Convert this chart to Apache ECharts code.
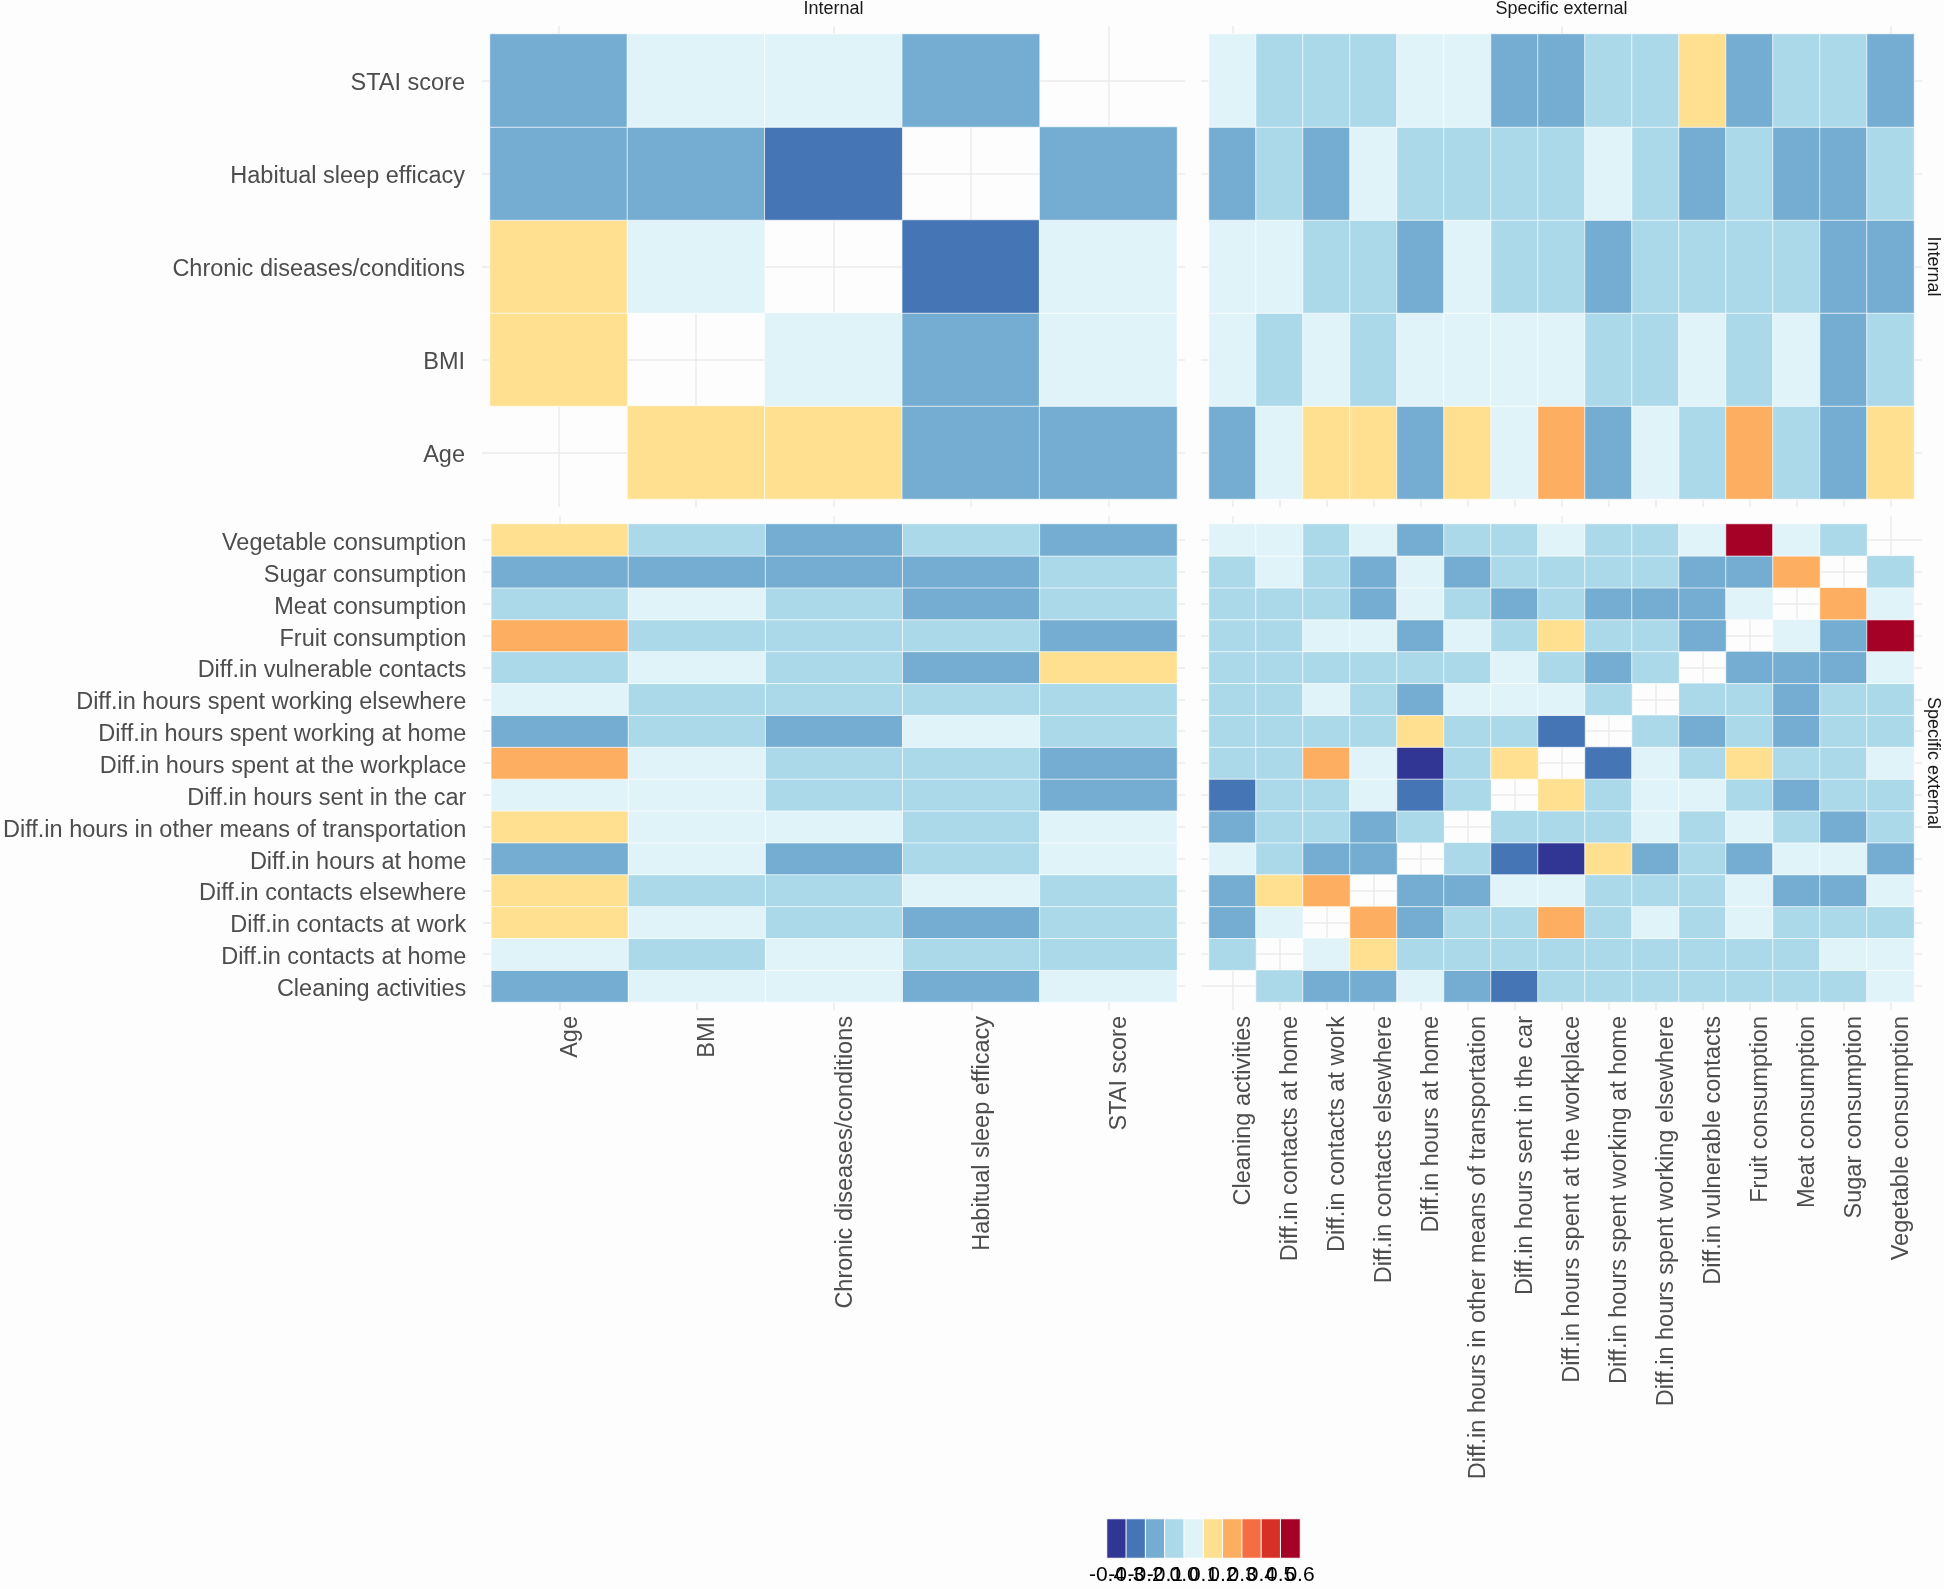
<!DOCTYPE html>
<html><head><meta charset="utf-8">
<script src="https://cdn.jsdelivr.net/npm/echarts@6/dist/echarts.min.js"></script>
<style>html,body{margin:0;padding:0;background:#fdfdfd}#c{width:1944px;height:1589px}</style>
</head><body><div id="c"></div>
<script>
// ---------- DATA ----------
const internalVars = ['Age', 'BMI', 'Chronic diseases/conditions', 'Habitual sleep efficacy', 'STAI score'];
const externalVars = ['Cleaning activities', 'Diff.in contacts at home', 'Diff.in contacts at work', 'Diff.in contacts elsewhere',
  'Diff.in hours at home', 'Diff.in hours in other means of transportation', 'Diff.in hours sent in the car',
  'Diff.in hours spent at the workplace', 'Diff.in hours spent working at home', 'Diff.in hours spent working elsewhere',
  'Diff.in vulnerable contacts', 'Fruit consumption', 'Meat consumption', 'Sugar consumption', 'Vegetable consumption'];
const facetLabels = ['Internal', 'Specific external'];
const legendBreaks = ['-0.4', '-0.3', '-0.2', '-0.1', '0.0', '0.1', '0.2', '0.3', '0.4', '0.5', '0.6'];
const legendValues = [-0.35, -0.25, -0.15, -0.05, 0.05, 0.15, 0.25, 0.35, 0.45, 0.55];

// rows follow internalVars (Age first), columns follow internalVars
const internalInternal = [
  [null, 0.15, 0.15, -0.15, -0.15],
  [0.15, null, 0.05, -0.15, 0.05],
  [0.15, 0.05, null, -0.25, 0.05],
  [-0.15, -0.15, -0.25, null, -0.15],
  [-0.15, 0.05, 0.05, -0.15, null]
];
// rows follow internalVars, columns follow externalVars
const internalExternal = [
  [-0.15, 0.05, 0.15, 0.15, -0.15, 0.15, 0.05, 0.25, -0.15, 0.05, -0.05, 0.25, -0.05, -0.15, 0.15],
  [0.05, -0.05, 0.05, -0.05, 0.05, 0.05, 0.05, 0.05, -0.05, -0.05, 0.05, -0.05, 0.05, -0.15, -0.05],
  [0.05, 0.05, -0.05, -0.05, -0.15, 0.05, -0.05, -0.05, -0.15, -0.05, -0.05, -0.05, -0.05, -0.15, -0.15],
  [-0.15, -0.05, -0.15, 0.05, -0.05, -0.05, -0.05, -0.05, 0.05, -0.05, -0.15, -0.05, -0.15, -0.15, -0.05],
  [0.05, -0.05, -0.05, -0.05, 0.05, 0.05, -0.15, -0.15, -0.05, -0.05, 0.15, -0.15, -0.05, -0.05, -0.15]
];
// rows follow externalVars, columns follow internalVars
const externalInternal = [
  [-0.15, 0.05, 0.05, -0.15, 0.05],
  [0.05, -0.05, 0.05, -0.05, -0.05],
  [0.15, 0.05, -0.05, -0.15, -0.05],
  [0.15, -0.05, -0.05, 0.05, -0.05],
  [-0.15, 0.05, -0.15, -0.05, 0.05],
  [0.15, 0.05, 0.05, -0.05, 0.05],
  [0.05, 0.05, -0.05, -0.05, -0.15],
  [0.25, 0.05, -0.05, -0.05, -0.15],
  [-0.15, -0.05, -0.15, 0.05, -0.05],
  [0.05, -0.05, -0.05, -0.05, -0.05],
  [-0.05, 0.05, -0.05, -0.15, 0.15],
  [0.25, -0.05, -0.05, -0.05, -0.15],
  [-0.05, 0.05, -0.05, -0.15, -0.05],
  [-0.15, -0.15, -0.15, -0.15, -0.05],
  [0.15, -0.05, -0.15, -0.05, -0.15]
];
// rows follow externalVars, columns follow externalVars
const externalExternal = [
  [null, -0.05, -0.15, -0.15, 0.05, -0.15, -0.25, -0.05, -0.05, -0.05, -0.05, -0.05, -0.05, -0.05, 0.05],
  [-0.05, null, 0.05, 0.15, -0.05, -0.05, -0.05, -0.05, -0.05, -0.05, -0.05, -0.05, -0.05, 0.05, 0.05],
  [-0.15, 0.05, null, 0.25, -0.15, -0.05, -0.05, 0.25, -0.05, 0.05, -0.05, 0.05, -0.05, -0.05, -0.05],
  [-0.15, 0.15, 0.25, null, -0.15, -0.15, 0.05, 0.05, -0.05, -0.05, -0.05, 0.05, -0.15, -0.15, 0.05],
  [0.05, -0.05, -0.15, -0.15, null, -0.05, -0.25, -0.35, 0.15, -0.15, -0.05, -0.15, 0.05, 0.05, -0.15],
  [-0.15, -0.05, -0.05, -0.15, -0.05, null, -0.05, -0.05, -0.05, 0.05, -0.05, 0.05, -0.05, -0.15, -0.05],
  [-0.25, -0.05, -0.05, 0.05, -0.25, -0.05, null, 0.15, -0.05, 0.05, 0.05, -0.05, -0.15, -0.05, -0.05],
  [-0.05, -0.05, 0.25, 0.05, -0.35, -0.05, 0.15, null, -0.25, 0.05, -0.05, 0.15, -0.05, -0.05, 0.05],
  [-0.05, -0.05, -0.05, -0.05, 0.15, -0.05, -0.05, -0.25, null, -0.05, -0.15, -0.05, -0.15, -0.05, -0.05],
  [-0.05, -0.05, 0.05, -0.05, -0.15, 0.05, 0.05, 0.05, -0.05, null, -0.05, -0.05, -0.15, -0.05, -0.05],
  [-0.05, -0.05, -0.05, -0.05, -0.05, -0.05, 0.05, -0.05, -0.15, -0.05, null, -0.15, -0.15, -0.15, 0.05],
  [-0.05, -0.05, 0.05, 0.05, -0.15, 0.05, -0.05, 0.15, -0.05, -0.05, -0.15, null, 0.05, -0.15, 0.55],
  [-0.05, -0.05, -0.05, -0.15, 0.05, -0.05, -0.15, -0.05, -0.15, -0.15, -0.15, 0.05, null, 0.25, 0.05],
  [-0.05, 0.05, -0.05, -0.15, 0.05, -0.15, -0.05, -0.05, -0.05, -0.05, -0.15, -0.15, 0.25, null, -0.05],
  [0.05, 0.05, -0.05, 0.05, -0.15, -0.05, -0.05, 0.05, -0.05, -0.05, 0.05, 0.55, 0.05, -0.05, null]
];

// ---------- STYLE / LAYOUT ----------
const palette = ['#313695', '#4575b4', '#74add1', '#abd9e9', '#e0f3f8', '#fee090', '#fdae61', '#f46d43', '#d73027', '#a50026'];
const FONT = 'Liberation Sans, Arial, sans-serif';
const labelColor = '#4d4d4d';
const gridColor = '#ebebeb';
const panels = [
  { left: 490, top: 34, width: 687, height: 465, xc: internalVars, yc: internalVars, m: internalInternal, xl: false, yl: true },
  { left: 1209, top: 34, width: 705, height: 465, xc: externalVars, yc: internalVars, m: internalExternal, xl: false, yl: false },
  { left: 490, top: 524, width: 687, height: 478, xc: internalVars, yc: externalVars, m: externalInternal, xl: true, yl: true },
  { left: 1209, top: 524, width: 705, height: 478, xc: externalVars, yc: externalVars, m: externalExternal, xl: true, yl: false }
];

const grid = [], xAxis = [], yAxis = [], series = [];
const tickStyle = { show: true, alignWithLabel: true, length: 8, lineStyle: { color: gridColor, width: 1.5 } };
const txt = { fontSize: 23.5, fontFamily: FONT, color: labelColor };

panels.forEach((p, gi) => {
  grid.push({ left: p.left, top: p.top, width: p.width, height: p.height, containLabel: false });
  const xi = xAxis.length, yi = yAxis.length;
  xAxis.push({
    type: 'category', gridIndex: gi, data: p.xc, position: 'bottom',
    axisLine: { show: false }, axisTick: tickStyle,
    splitLine: { show: true, alignWithLabel: true, lineStyle: { color: gridColor, width: 1.5 } },
    axisLabel: {
      show: p.xl, rotate: 90, margin: 14, interval: 0, ...txt,
      formatter: v => '{t|' + v + '}',
      rich: { t: { ...txt, padding: [22, 0, 0, 0] } }
    }
  });
  xAxis.push({
    type: 'category', gridIndex: gi, data: p.xc, position: 'top',
    axisLine: { show: false }, axisTick: tickStyle, splitLine: { show: false }, axisLabel: { show: false }
  });
  yAxis.push({
    type: 'category', gridIndex: gi, data: p.yc, position: 'left',
    axisLine: { show: false }, axisTick: tickStyle,
    splitLine: { show: true, alignWithLabel: true, lineStyle: { color: gridColor, width: 1.5 } },
    axisLabel: {
      show: p.yl, margin: 25, interval: 0, ...txt,
      formatter: v => '{t|' + v + '}',
      rich: { t: { ...txt, padding: [7, 0, 0, 0] } }
    }
  });
  yAxis.push({
    type: 'category', gridIndex: gi, data: p.yc, position: 'right',
    axisLine: { show: false }, axisTick: tickStyle, splitLine: { show: false }, axisLabel: { show: false }
  });
  const data = [];
  p.m.forEach((row, r) => row.forEach((v, c) => { if (v !== null) data.push([c, r, v]); }));
  series.push({
    type: 'heatmap', xAxisIndex: xi, yAxisIndex: yi, data: data,
    itemStyle: { borderColor: '#ffffff', borderWidth: 0.7 },
    emphasis: { disabled: true }
  });
});

// legend (colour bar) panel
grid.push({ left: 1107, top: 1519, width: 193, height: 39 });
const lgX = xAxis.length;
xAxis.push({ type: 'category', gridIndex: 4, data: legendValues.map(String), show: false });
xAxis.push({
  type: 'category', gridIndex: 4, data: legendBreaks, boundaryGap: false,
  position: 'bottom', axisLine: { show: false }, axisTick: { show: false }, splitLine: { show: false },
  axisLabel: { interval: 0, hideOverlap: false, margin: 7, fontSize: 21, fontFamily: FONT, color: '#000' }
});
const lgY = yAxis.length;
yAxis.push({ type: 'category', gridIndex: 4, data: [''], show: false });
series.push({
  type: 'heatmap', xAxisIndex: lgX, yAxisIndex: lgY,
  data: legendValues.map((v, i) => [i, 0, v]),
  itemStyle: { borderColor: '#ffffff', borderWidth: 1 },
  emphasis: { disabled: true }
});

const breaksNum = legendBreaks.map(Number);
const pieces = palette.map((c, i) => ({ gte: breaksNum[i], lt: breaksNum[i + 1] + (i === palette.length - 1 ? 1e-9 : 0), color: c }));

const stripFont = '18px ' + FONT;
const graphic = [
  { type: 'text', x: 833.5, y: 9, style: { text: facetLabels[0], font: stripFont, fill: '#1a1a1a', align: 'center', verticalAlign: 'middle' } },
  { type: 'text', x: 1561.5, y: 9, style: { text: facetLabels[1], font: stripFont, fill: '#1a1a1a', align: 'center', verticalAlign: 'middle' } },
  { type: 'text', x: 1933, y: 266.5, rotation: -Math.PI / 2, style: { text: facetLabels[0], font: stripFont, fill: '#1a1a1a', align: 'center', verticalAlign: 'middle' } },
  { type: 'text', x: 1933, y: 763, rotation: -Math.PI / 2, style: { text: facetLabels[1], font: stripFont, fill: '#1a1a1a', align: 'center', verticalAlign: 'middle' } }
];

const chart = echarts.init(document.getElementById('c'), null, { renderer: 'canvas' });
chart.setOption({
  backgroundColor: '#fdfdfd',
  animation: false,
  grid: grid, xAxis: xAxis, yAxis: yAxis, series: series,
  visualMap: { type: 'piecewise', show: false, dimension: 2, seriesIndex: [0, 1, 2, 3, 4], pieces: pieces },
  graphic: graphic
});
</script>
</body></html>
